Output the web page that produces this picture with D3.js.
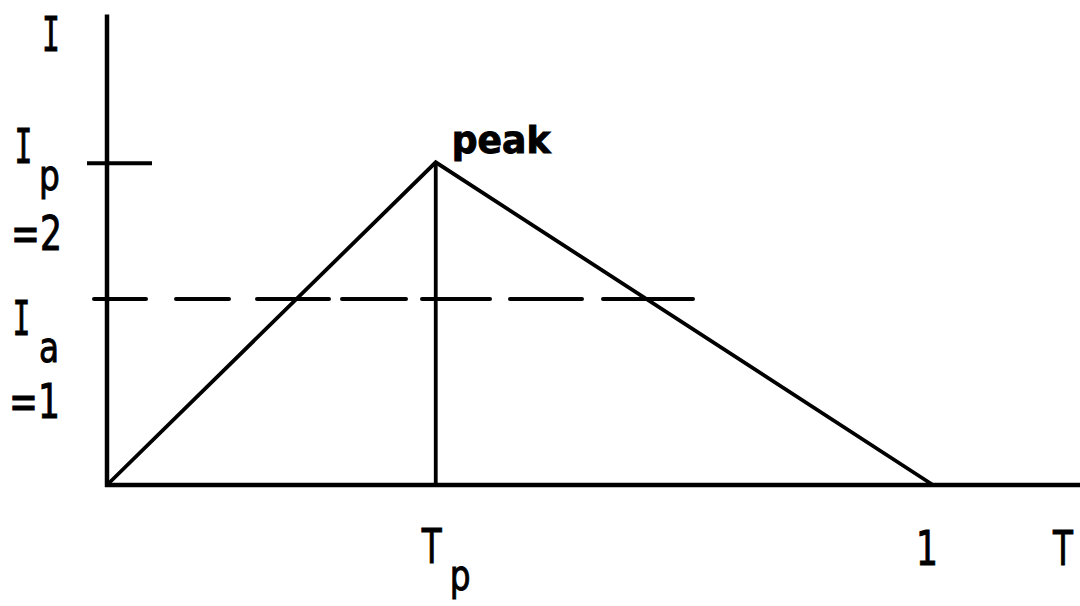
<!DOCTYPE html>
<html>
<head>
<meta charset="utf-8">
<script src="https://cdn.jsdelivr.net/npm/d3@7"></script>
<style>
  html, body { margin: 0; padding: 0; background: #fff; }
  svg { display: block; }
  .lbl { font-family: "DejaVu Sans", sans-serif; fill: #000; stroke: #000; stroke-width: 1; }
  .ilbl { font-family: "DejaVu Sans Mono", monospace; fill: #000; stroke: #000; stroke-width: 1; }
</style>
</head>
<body>
<svg id="chart" width="1080" height="606"></svg>
<script>
// ---- data (schematic, not to scale) ----
const hydroT = [0, 0.398, 1];          // time: start, peak time Tp, end (T = 1)
const hydroI = [0, 1.735, 0];          // drawn intensity at those times
const peakT = 0.398;                   // Tp
const peakI = 1.735;                   // drawn level of Ip (labelled =2)
const avgI = 1;                        // Ia (labelled =1)
const avgLineEndT = 0.71;              // dashed line end
const axisMaxT = 1.178;
const axisMaxI = 2.53;
const yLabelsIp = ["I", "p", "=2"];
const yLabelsIa = ["I", "a", "=1"];
const xLabels = ["T", "p", "1", "T"];

const svg = d3.select("#chart");
const x = d3.scaleLinear().domain([0, 1]).range([107, 933]);
const y = d3.scaleLinear().domain([0, 1]).range([485, 299]);

const g = svg.append("g");

// axes
g.append("line").attr("x1", x(0)).attr("x2", x(0)).attr("y1", y(axisMaxI)).attr("y2", y(0) + 2)
  .attr("stroke", "#000").attr("stroke-width", 4.5);
g.append("line").attr("x1", x(0) - 2).attr("x2", x(axisMaxT)).attr("y1", y(0)).attr("y2", y(0))
  .attr("stroke", "#000").attr("stroke-width", 4.5);

// Ip tick
g.append("line").attr("x1", x(0) - 20).attr("x2", x(0) + 45).attr("y1", y(peakI) + 1).attr("y2", y(peakI) + 1)
  .attr("stroke", "#000").attr("stroke-width", 4);

// dashed Ia line
g.append("line").attr("x1", x(0) - 13).attr("x2", x(avgLineEndT)).attr("y1", y(avgI)).attr("y2", y(avgI))
  .attr("stroke", "#000").attr("stroke-width", 4).attr("stroke-linecap", "round")
  .attr("stroke-dasharray", "52,30,53,28,72,13,64,16,68,20,72,21,90");

// hydrograph triangle
const line = d3.line().x((d, i) => x(hydroT[i])).y((d, i) => y(hydroI[i]));
g.append("path").datum(hydroT).attr("d", line)
  .attr("fill", "none").attr("stroke", "#000").attr("stroke-width", 3.8).attr("stroke-linejoin", "miter");

// vertical at Tp
g.append("line").attr("x1", x(peakT)).attr("x2", x(peakT)).attr("y1", y(peakI)).attr("y2", y(0))
  .attr("stroke", "#000").attr("stroke-width", 3.8);

// text helper: condensed horizontally via scale
function txt(s, px, py, size, sx, cls, anchor, weight) {
  g.append("text").attr("class", cls)
    .attr("transform", `translate(${px},${py}) scale(${sx},1)`)
    .attr("text-anchor", anchor || "start")
    .attr("font-size", size)
    .attr("font-weight", weight || "normal")
    .text(s);
}

txt("I", 51, 51, 48, 0.62, "ilbl", "middle");

// Ip
txt(yLabelsIp[0], 23.5, 163, 48, 0.62, "ilbl", "middle");
txt(yLabelsIp[1], 39, 190, 42, 0.78, "lbl");
txt(yLabelsIp[2], 11, 250, 48, 0.72, "lbl");

// Ia
txt(yLabelsIa[0], 21.5, 335, 48, 0.62, "ilbl", "middle");
txt(yLabelsIa[1], 39, 362, 42, 0.78, "lbl");
txt(yLabelsIa[2], 9, 418, 48, 0.72, "lbl");

// peak
txt("peak", x(peakT) + 16, 153, 38, 0.95, "lbl", "start", "bold");

// x labels
txt(xLabels[0], x(peakT) - 4, 563, 48, 0.68, "lbl", "middle");
txt(xLabels[1], x(peakT) + 14, 590, 42, 0.78, "lbl");
txt(xLabels[2], x(1) - 6, 565, 48, 0.72, "lbl", "middle");
txt(xLabels[3], x(axisMaxT) - 17, 565, 48, 0.68, "lbl", "middle");
</script>
</body>
</html>
